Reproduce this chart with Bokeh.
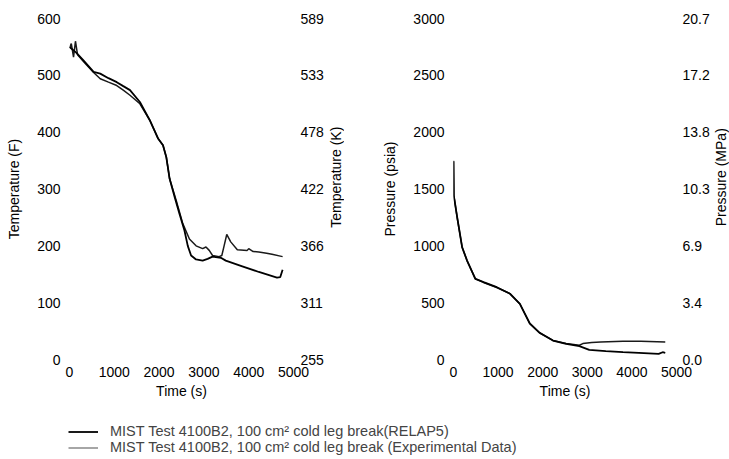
import math
from bokeh.plotting import figure
from bokeh.models import LinearAxis, FixedTicker, Legend, LegendItem, Label
from bokeh.layouts import column, row
from bokeh.embed import file_html
from bokeh.resources import INLINE

# ---------------- data ----------------
# Temperature panel (deg F) vs time (s)
temp_relap_t = [0, 150, 316, 538, 686, 870, 1055, 1200, 1350, 1571, 1792, 1976, 2087, 2161,
                2235, 2350, 2456, 2566, 2640, 2714, 2825, 2972, 3083, 3193, 3378, 3488,
                3857, 4226, 4631, 4705, 4757]
temp_relap = [550, 540, 526, 506, 503, 495, 488, 481, 474, 453, 421, 389, 377, 356,
              318, 285, 256, 227, 200, 183, 176, 174, 177, 181, 179, 174,
              164, 154, 144, 145, 158]

temp_exp_t = [0, 40, 90, 133, 180, 316, 538, 686, 870, 1055, 1200, 1350, 1571, 1792, 1976,
              2087, 2161, 2235, 2382, 2529, 2677, 2825, 2972, 3046, 3119, 3193, 3340, 3400,
              3451, 3510, 3599, 3746, 3967, 4000, 4100, 4226, 4400, 4520, 4757]
temp_exp = [548, 556, 532, 560, 536, 524, 505, 494, 488, 482, 474, 465, 450, 421, 389,
            377, 356, 318, 280, 239, 212, 200, 195, 198, 192, 183, 181, 183,
            200, 220, 207, 193, 192, 195, 190, 189, 187, 185, 181]

# Pressure panel (psia) vs time (s)
pres_relap_t = [0, 7, 82, 193, 304, 489, 674, 970, 1267, 1489, 1711, 1933, 2230, 2526,
                2822, 3044, 3415, 3800, 4156, 4600, 4689, 4748]
pres_relap = [1744, 1442, 1252, 988, 871, 710, 680, 636, 578, 490, 316, 235, 167, 138,
              118, 85, 73, 65, 59, 50, 64, 58]

pres_exp_t = [0, 7, 82, 193, 304, 489, 674, 970, 1267, 1489, 1711, 1933, 2230, 2526,
              2822, 2900, 3100, 3300, 3800, 4200, 4748]
pres_exp = [1748, 1445, 1250, 990, 868, 712, 678, 633, 580, 488, 318, 233, 168, 140,
            125, 140, 150, 155, 160, 160, 155]

# Axis ticks and labels
time_ticks = [0, 1000, 2000, 3000, 4000, 5000]
temp_f_ticks = [0, 100, 200, 300, 400, 500, 600]
temp_k_labels = ["255", "311", "366", "422", "478", "533", "589"]
pres_psia_ticks = [0, 500, 1000, 1500, 2000, 2500, 3000]
pres_mpa_labels = ["0.0", "3.4", "6.9", "10.3", "13.8", "17.2", "20.7"]

legend_labels = ["MIST Test 4100B2, 100 cm\u00b2 cold leg break(RELAP5)",
                 "MIST Test 4100B2, 100 cm\u00b2 cold leg break (Experimental Data)"]

# ---------------- styles ----------------
FONT = "Liberation Sans"
TICK_SIZE = "14px"
TITLE_SIZE = "14px"
RELAP_COLOR = "black"
EXP_COLOR = "#1a1a1a"
H = 405
MB_TOP = 18
MB_BOTTOM = 46


def style_axis(ax, standoff, title_standoff):
    ax.axis_line_color = None
    ax.major_tick_line_color = None
    ax.minor_tick_line_color = None
    ax.major_tick_out = 0
    ax.major_tick_in = 0
    ax.major_label_standoff = standoff
    ax.major_label_text_font = FONT
    ax.major_label_text_font_size = TICK_SIZE
    ax.major_label_text_color = "black"
    ax.axis_label_text_font = FONT
    ax.axis_label_text_font_size = TITLE_SIZE
    ax.axis_label_text_font_style = "normal"
    ax.axis_label_text_color = "black"
    ax.axis_label_standoff = title_standoff


def make_panel(width, mb_left, mb_right, y_end, y_ticks, right_labels,
               left_title, r_standoff, t1, y1, t2, y2):
    p = figure(width=width, height=H, x_range=(0, 5000), y_range=(0, y_end),
               output_backend="svg", toolbar_location=None,
               min_border_left=mb_left, min_border_right=mb_right,
               min_border_top=MB_TOP, min_border_bottom=MB_BOTTOM)
    p.outline_line_color = None
    p.xgrid.visible = False
    p.ygrid.visible = False

    p.xaxis.ticker = FixedTicker(ticks=time_ticks)
    p.xaxis.axis_label = "Time (s)"
    style_axis(p.xaxis[0], 7, 3)

    p.yaxis.ticker = FixedTicker(ticks=y_ticks)
    p.yaxis.axis_label = left_title
    style_axis(p.yaxis[0], 9, 12)

    rax = LinearAxis(ticker=FixedTicker(ticks=y_ticks),
                     major_label_overrides={t: lab for t, lab in zip(y_ticks, right_labels)})
    style_axis(rax, r_standoff, 0)
    p.add_layout(rax, "right")

    p.line(t2, y2, line_color=EXP_COLOR, line_width=1.5)
    p.line(t1, y1, line_color=RELAP_COLOR, line_width=1.8)
    return p


def title_strip(width, text):
    """Narrow strip holding a right-hand axis title that reads bottom-to-top."""
    f = figure(width=width, height=H, x_range=(0, 1), y_range=(0, H),
               x_axis_type=None, y_axis_type=None,
               output_backend="svg", toolbar_location=None, min_border=0)
    f.outline_line_color = None
    f.xgrid.visible = False
    f.ygrid.visible = False
    frame_mid = H - (MB_TOP + (H - MB_TOP - MB_BOTTOM) / 2)
    f.add_layout(Label(x=0.5, y=frame_mid, text=text, angle=math.pi / 2,
                       text_align="center", text_baseline="middle",
                       text_font=FONT, text_font_size=TITLE_SIZE,
                       text_color="black"))
    return f


p1 = make_panel(326, 69, 31, 600, temp_f_ticks, temp_k_labels,
                "Temperature (F)", 7,
                temp_relap_t, temp_relap, temp_exp_t, temp_exp)
k_strip = title_strip(18, "Temperature (K)")
p2 = make_panel(368, 109, 34, 3000, pres_psia_ticks, pres_mpa_labels,
                "Pressure (psia)", 6,
                pres_relap_t, pres_relap, pres_exp_t, pres_exp)
mpa_strip = title_strip(17, "Pressure (MPa)")

# legend strip
p3 = figure(width=729, height=54, x_range=(0, 1), y_range=(0, 1),
            x_axis_type=None, y_axis_type=None,
            output_backend="svg", toolbar_location=None, min_border=0)
p3.outline_line_color = None
p3.xgrid.visible = False
p3.ygrid.visible = False
r1 = p3.line([-5, -4], [-5, -4], line_color=RELAP_COLOR, line_width=1.8)
r2 = p3.line([-5, -4], [-5, -4], line_color="#888888", line_width=1.5)
leg = Legend(items=[LegendItem(label=legend_labels[0], renderers=[r1]),
                    LegendItem(label=legend_labels[1], renderers=[r2])],
             location=(68, 4), padding=0, margin=0, spacing=0,
             glyph_width=30, glyph_height=15, label_height=15, label_standoff=12,
             label_text_font=FONT, label_text_font_size="14.5px",
             border_line_color=None, background_fill_alpha=0)
p3.add_layout(leg)

layout = column(row(p1, k_strip, p2, mpa_strip), p3)

open("out.html", "w").write(file_html(layout, INLINE))
